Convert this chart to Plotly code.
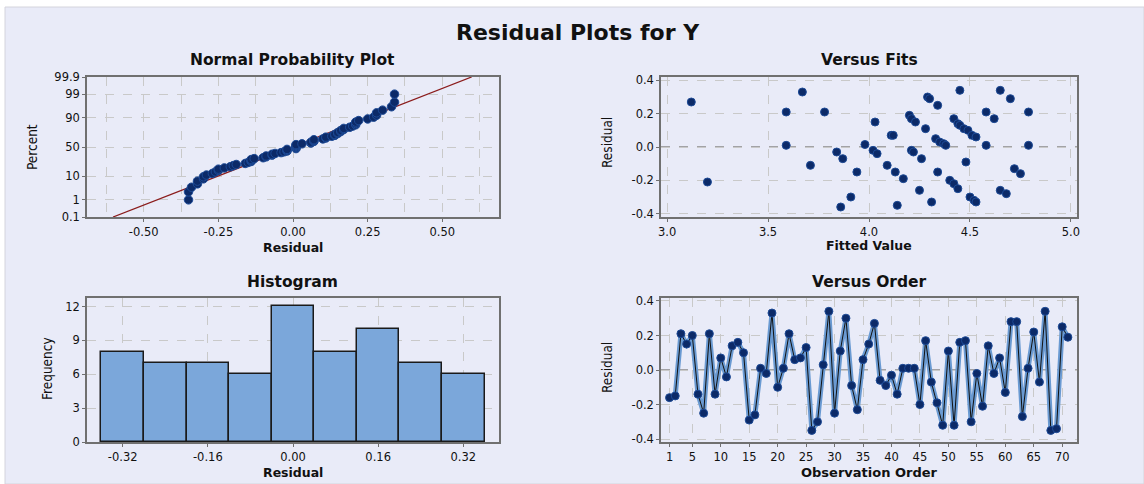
import plotly.graph_objects as go
from statistics import NormalDist, mean, pstdev

# ---------------- data ----------------
order_residuals = [
    -0.16, -0.15, 0.21, 0.15, 0.20, -0.14, -0.25, 0.21, -0.14, 0.07,
    -0.04, 0.14, 0.16, 0.10, -0.29, -0.26, 0.01, -0.02, 0.33, -0.10,
    0.01, 0.21, 0.06, 0.07, 0.13, -0.35, -0.30, 0.03, 0.34, -0.25,
    0.11, 0.30, -0.09, -0.23, 0.06, 0.15, 0.27, -0.06, -0.09, -0.03,
    -0.14, 0.01, 0.01, 0.01, -0.20, 0.17, -0.07, -0.19, -0.32, 0.11,
    -0.32, 0.16, 0.17, -0.30, -0.02, -0.21, 0.14, -0.02, 0.07, -0.13,
    0.28, 0.28, -0.27, 0.01, 0.22, -0.07, 0.34, -0.35, -0.34, 0.25, 0.19,
]
observation_order = list(range(1, len(order_residuals) + 1))

fitted_values = [
    3.12, 3.20, 3.59, 3.59, 3.67, 3.71, 3.78, 3.84, 3.87, 3.86,
    3.91, 3.94, 3.98, 4.02, 4.04, 4.03, 4.09, 4.11, 4.12, 4.13,
    4.17, 4.14, 4.20, 4.21, 4.23, 4.21, 4.22, 4.26, 4.25, 4.28,
    4.29, 4.30, 4.34, 4.33, 4.35, 4.37, 4.38, 4.34, 4.31, 4.42,
    4.44, 4.45, 4.47, 4.49, 4.51, 4.53, 4.45, 4.40, 4.42, 4.44,
    4.48, 4.50, 4.52, 4.53, 4.58, 4.58, 4.62, 4.65, 4.70, 4.65,
    4.68, 4.72, 4.75, 4.79, 4.79,
]
fit_residuals = [
    0.27, -0.21, 0.21, 0.01, 0.33, -0.11, 0.21, -0.03, -0.07, -0.36,
    -0.30, -0.15, 0.015, -0.02, -0.04, 0.15, -0.11, 0.07, 0.07, -0.15,
    -0.19, -0.35, 0.19, 0.17, 0.15, -0.02, -0.03, -0.07, -0.26, 0.11,
    0.30, 0.29, 0.25, 0.05, 0.03, 0.02, 0.01, -0.15, -0.33, 0.17,
    0.14, 0.13, 0.11, 0.10, 0.07, 0.06, 0.34, -0.20, -0.22, -0.25,
    -0.09, -0.30, -0.32, -0.33, 0.21, 0.01, 0.17, 0.34, 0.29, -0.26,
    -0.28, -0.13, -0.16, 0.21, 0.01,
]

hist_centers = [-0.32, -0.24, -0.16, -0.08, 0.00, 0.08, 0.16, 0.24, 0.32]
hist_counts = [8, 7, 7, 6, 12, 8, 10, 7, 6]
hist_width = 0.08

prob_ticks = [0.1, 1, 10, 50, 90, 99, 99.9]
prob_ticklabels = ["0.1", "1", "10", "50", "90", "99", "99.9"]

# ---------------- derived (normal probability) ----------------
nd = NormalDist()
n = len(order_residuals)
sorted_res = sorted(order_residuals)
pp_z = [nd.inv_cdf((i + 1 - 0.3) / (n + 0.4)) for i in range(n)]
mu = mean(order_residuals)
sd = pstdev(order_residuals)
zlo, zhi = nd.inv_cdf(0.001), nd.inv_cdf(0.999)
line_z = [zlo, zhi]
line_x = [mu + sd * zlo, mu + sd * zhi]
tick_z = [nd.inv_cdf(p / 100) for p in prob_ticks]

# ---------------- style ----------------
W, H = 1144, 484
BG = "#e9ebf8"
GRID = "#c9c9c9"
AXL = "#707070"
DOT = "#0c2a68"
DOTL = "#1d4a96"
TICKFONT = dict(family="DejaVu Sans, sans-serif", size=11.5, color="#111")
TITLEFONT = "DejaVu Sans, sans-serif"
NARROW = "Liberation Sans Narrow, Arial Narrow, DejaVu Sans Condensed, sans-serif"


def px_x(p):
    return p / W


def px_y(p):
    return 1 - p / H


def axis_common(**kw):
    d = dict(
        showline=True, mirror=True, linecolor=AXL, linewidth=1.5,
        ticks="outside", ticklen=3, tickcolor=AXL,
        showgrid=True, gridcolor=GRID, griddash="dash", gridwidth=1,
        zeroline=False, tickfont=TICKFONT,
    )
    d.update(kw)
    return d


fig = go.Figure()

# Panel 1: normal probability plot
fig.add_trace(go.Scatter(x=line_x, y=line_z, mode="lines",
                         line=dict(color="#8b1c1c", width=1.3),
                         xaxis="x", yaxis="y", hoverinfo="skip"))
fig.add_trace(go.Scatter(x=sorted_res, y=pp_z, mode="markers",
                         marker=dict(color=DOT, size=8.5, line=dict(color=DOTL, width=1)),
                         xaxis="x", yaxis="y"))

# Panel 2: versus fits
fig.add_trace(go.Scatter(x=fitted_values, y=fit_residuals, mode="markers",
                         marker=dict(color=DOT, size=8, line=dict(color=DOTL, width=1)),
                         xaxis="x2", yaxis="y2"))

# Panel 3: histogram
fig.add_trace(go.Bar(x=hist_centers, y=hist_counts, width=hist_width,
                     marker=dict(color="#7ba7da", line=dict(color="#1a1a1a", width=1.5)),
                     xaxis="x3", yaxis="y3"))

# Panel 4: versus order
fig.add_trace(go.Scatter(x=observation_order, y=order_residuals, mode="lines",
                         line=dict(color="#6a9ad2", width=5),
                         xaxis="x4", yaxis="y4", hoverinfo="skip"))
fig.add_trace(go.Scatter(x=observation_order, y=order_residuals, mode="lines+markers",
                         line=dict(color="#111111", width=1),
                         marker=dict(color=DOT, size=8, line=dict(color=DOTL, width=1)),
                         xaxis="x4", yaxis="y4"))

# domains
top_y = [px_y(217), px_y(77)]
bot_y = [px_y(442), px_y(298)]
left_x = [px_x(87), px_x(499)]
right_x = [px_x(661), px_x(1077)]

fig.update_layout(
    width=W, height=H,
    margin=dict(l=0, r=0, t=0, b=0, autoexpand=False),
    paper_bgcolor="white",
    plot_bgcolor="white",
    showlegend=False,
    bargap=0,
    xaxis=axis_common(domain=left_x, anchor="y", range=[-0.69, 0.69],
                      tickvals=[-0.5, -0.25, 0, 0.25, 0.5],
                      ticktext=["-0.50", "-0.25", "0.00", "0.25", "0.50"],
                      minor=dict(dtick=0.125, tick0=0, showgrid=True,
                                 gridcolor=GRID, griddash="dash", ticks="")),
    yaxis=axis_common(domain=top_y, anchor="x", range=[zlo, zhi],
                      tickvals=tick_z, ticktext=prob_ticklabels),
    xaxis2=axis_common(domain=right_x, anchor="y2", range=[2.97, 5.03],
                       tickvals=[3.0, 3.5, 4.0, 4.5, 5.0],
                       ticktext=["3.0", "3.5", "4.0", "4.5", "5.0"]),
    yaxis2=axis_common(domain=top_y, anchor="x2", range=[-0.42, 0.42],
                       tickvals=[-0.4, -0.2, 0.0, 0.2, 0.4],
                       ticktext=["-0.4", "-0.2", "0.0", "0.2", "0.4"]),
    xaxis3=axis_common(domain=left_x, anchor="y3", range=[-0.387, 0.387],
                       tickvals=[-0.32, -0.16, 0.0, 0.16, 0.32],
                       ticktext=["-0.32", "-0.16", "0.00", "0.16", "0.32"]),
    yaxis3=axis_common(domain=bot_y, anchor="x3", range=[0, 12.75],
                       tickvals=[0, 3, 6, 9, 12]),
    xaxis4=axis_common(domain=right_x, anchor="y4", range=[-0.5, 72.6],
                       tickvals=[1] + list(range(5, 71, 5))),
    yaxis4=axis_common(domain=bot_y, anchor="x4", range=[-0.417, 0.417],
                       tickvals=[-0.4, -0.2, 0.0, 0.2, 0.4],
                       ticktext=["-0.4", "-0.2", "0.0", "0.2", "0.4"]),
)

# background panel
fig.add_shape(type="rect", xref="paper", yref="paper",
              x0=px_x(5), x1=1.0, y0=0, y1=px_y(7),
              fillcolor=BG, line=dict(color="#d4d4dc", width=1), layer="below")

# zero reference lines
for xa, ya in (("x2", "y2"), ("x4", "y4")):
    fig.add_shape(type="line", xref=f"{xa} domain", yref=ya, x0=0, x1=1, y0=0, y1=0,
                  line=dict(color="#8a8a8a", width=1.3, dash="dash"), layer="below")

ann = []


def text(x, y, s, size, bold=True, family=TITLEFONT, angle=0):
    ann.append(dict(x=px_x(x), y=px_y(y), xref="paper", yref="paper",
                    text=f"<b>{s}</b>" if bold else s, showarrow=False,
                    xanchor="center", yanchor="middle", textangle=angle,
                    font=dict(family=family, size=size, color="#111")))


text(578, 33, "Residual Plots for Y", 22)
text(293, 60, "Normal Probability Plot", 15.5)
text(869, 60, "Versus Fits", 15.5)
text(293, 282, "Histogram", 15.5)
text(869, 282, "Versus Order", 15.5)
text(293, 247, "Residual", 12.5)
text(869, 245, "Fitted Value", 12.5)
text(293, 472, "Residual", 12.5)
text(869, 472, "Observation Order", 13)
text(32, 147, "Percent", 13.5, bold=False, family=NARROW, angle=-90)
text(607, 143, "Residual", 13.5, bold=False, family=NARROW, angle=-90)
text(47, 368, "Frequency", 13.5, bold=False, family=NARROW, angle=-90)
text(607, 368, "Residual", 13.5, bold=False, family=NARROW, angle=-90)
fig.update_layout(annotations=ann)

fig.write_html(
    "out.html",
    config={"displayModeBar": False},
    post_script="document.body.style.margin='0';document.body.style.overflow='hidden';",
)
